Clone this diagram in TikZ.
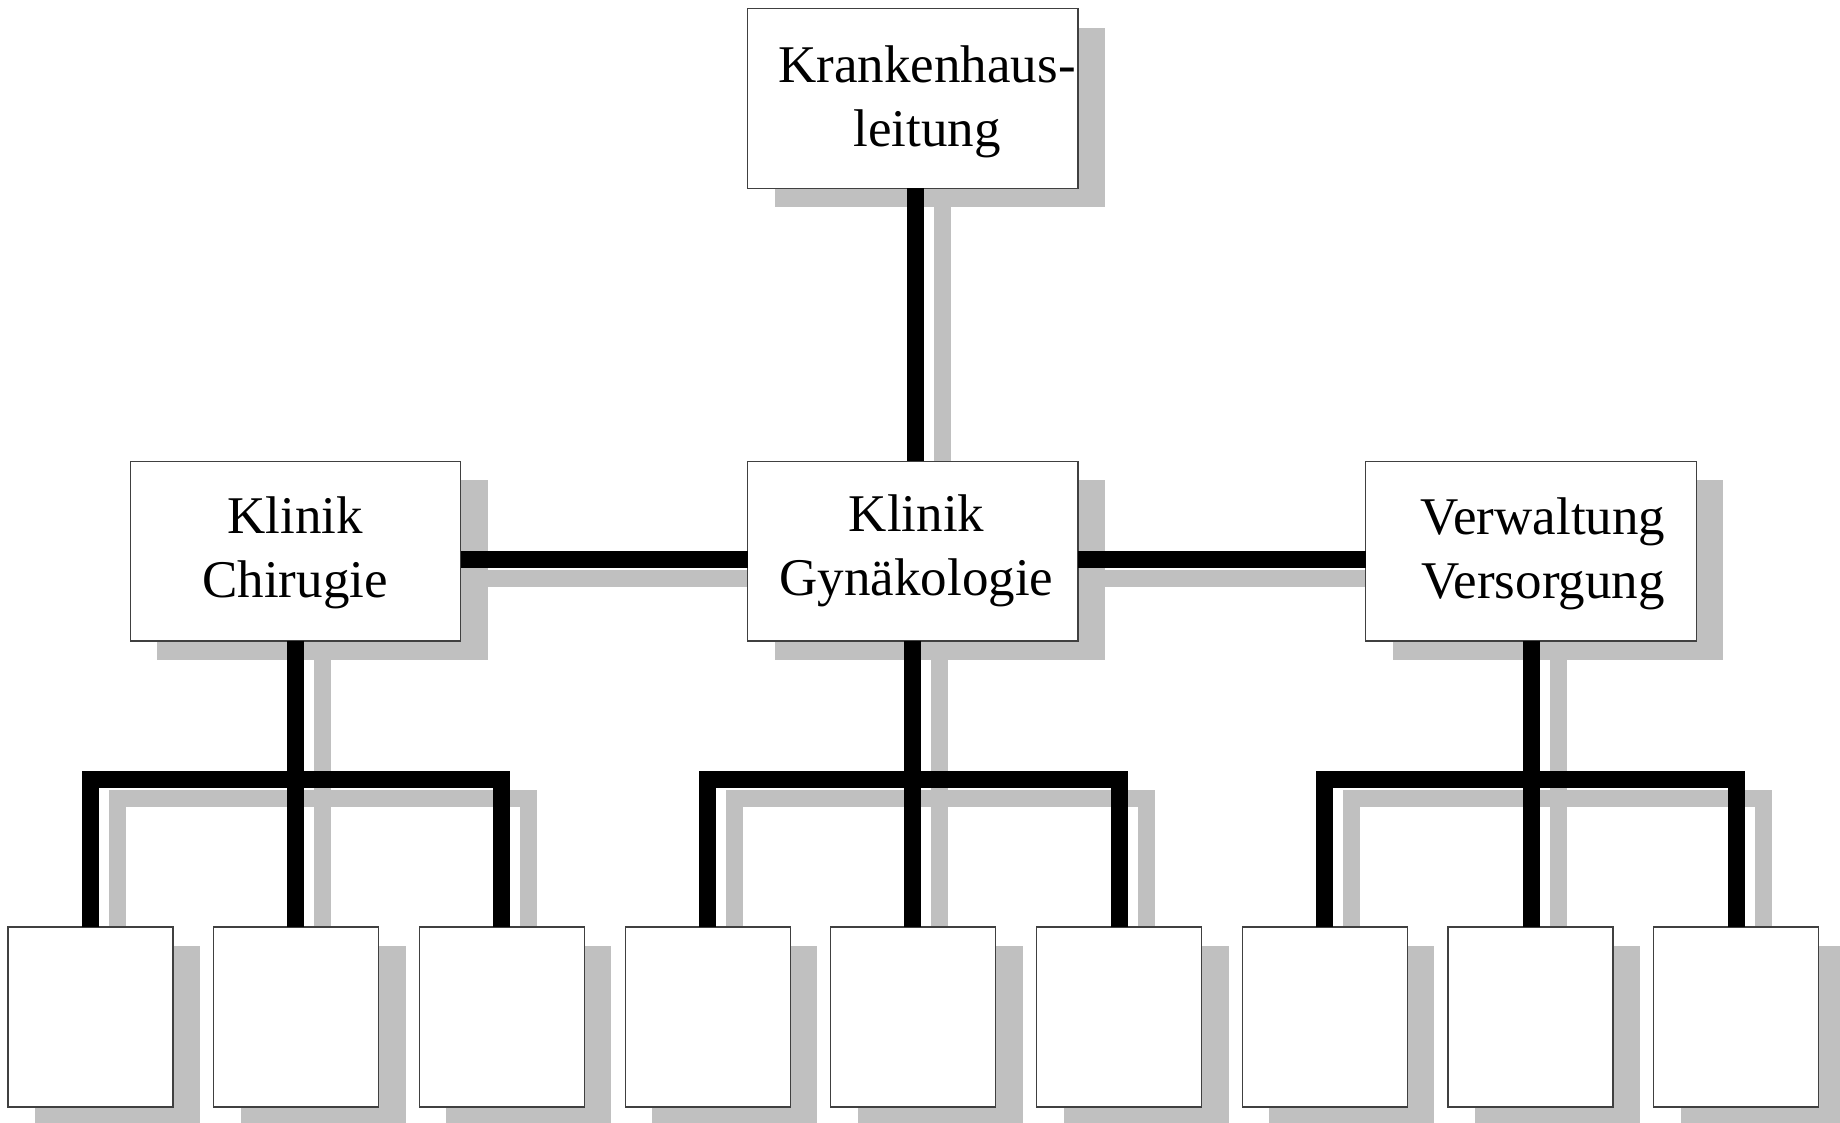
\documentclass[tikz,border=0pt]{standalone}
\usepackage{fontspec}
\setmainfont{Liberation Serif}
\pgfdeclarelayer{shadowlayer}
\pgfsetlayers{shadowlayer,main}
\definecolor{shadowgray}{HTML}{C0C0C0}
\tikzset{
  unitbox/.style={draw=black!75, line width=0.6pt, fill=white, inner sep=0pt, outer sep=0pt},
  headbox/.style={unitbox, minimum width=165.25pt, minimum height=89.75pt},
  leafbox/.style={unitbox, minimum width=82.5pt, minimum height=90pt},
  boxtext/.style={align=center, font=\fontsize{26.5pt}{32pt}\selectfont, inner sep=0pt},
  link/.style={line width=8.5pt, line join=miter, draw=black},
  linkshadow/.style={line width=8.5pt, line join=miter, draw=shadowgray,
    transform canvas={shift={(13.5pt,-9.5pt)}}},
  boxshadow/.style={fill=shadowgray, transform canvas={shift={(13.5pt,-9.5pt)}}},
}
% a connector: grey drop shadow on the back layer, black bar on top
\newcommand\linkto[1]{%
  \begin{pgfonlayer}{shadowlayer}\draw[linkshadow] #1;\end{pgfonlayer}%
  \draw[link] #1;}
% drop shadow of a box
\newcommand\boxshade[1]{%
  \begin{pgfonlayer}{shadowlayer}\fill[boxshadow] (#1.south west) rectangle (#1.north east);\end{pgfonlayer}}
\begin{document}
\begin{tikzpicture}[x=0.5pt, y=-0.5pt]
\useasboundingbox (0,0) rectangle (1840,1123);

% boxes
\node[headbox] (head) at (912.8,98.5) {};
\node[headbox] (chir) at (295.5,551.2) {};
\node[headbox] (gyn)  at (912.8,551.2) {};
\node[headbox] (verw) at (1531,551.2) {};
\foreach \i in {1,...,9}
  \node[leafbox] (leaf\i) at ({90.5+205.7*(\i-1)},1017) {};

% labels
\node[boxtext] (headtext) at (927,101.6)   {Krankenhaus-\\leitung};
\node[boxtext] (chirtext) at (295,552.6)   {Klinik\\Chirugie};
\node[boxtext] (gyntext)  at (916.5,551)   {Klinik\\Gynäkologie};
\node[boxtext] (verwtext) at (1543,553.6)  {Verwaltung\\Versorgung};

% box shadows
\foreach \b in {head,chir,gyn,verw,leaf1,leaf2,leaf3,leaf4,leaf5,leaf6,leaf7,leaf8,leaf9}
  \boxshade{\b};

% connectors between the upper boxes
\linkto{([xshift=1.1pt]head.south) -- ([xshift=1.1pt]gyn.north)}
\linkto{([yshift=-4.25pt]chir.east) -- ([yshift=-4.25pt]gyn.west)}
\linkto{([yshift=-4.25pt]gyn.east) -- ([yshift=-4.25pt]verw.west)}

% brackets down to the leaf boxes
\coordinate (bar) at (0,779.5);
\foreach \p/\a/\b/\c in {chir/1/2/3, gyn/4/5/6, verw/7/8/9} {
  \linkto{(\p.south) -- (\p.south |- leaf\b.north)}
  \linkto{(leaf\a.north) -- (leaf\a.north |- bar) -- (leaf\c.north |- bar) -- (leaf\c.north)}
}
\end{tikzpicture}
\end{document}
